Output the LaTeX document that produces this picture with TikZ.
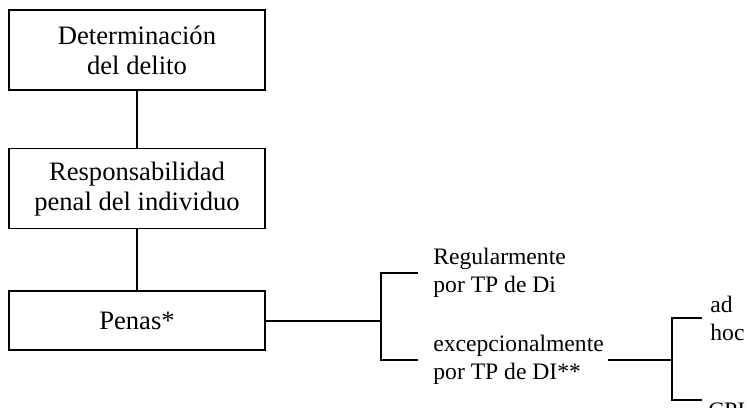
\documentclass[tikz,border=0pt]{standalone}
\usepackage{fontspec}
\setmainfont{Liberation Serif}
\usetikzlibrary{positioning}

\tikzset{
    box/.style={rectangle, draw, line width=0.8pt, minimum width=128pt, align=center, font=\fontsize{13.3}{15}\selectfont},
    branch/.style={align=left, inner xsep=2pt, font=\fontsize{11.8}{14}\selectfont},
    link/.style={line width=0.8pt}
}

\begin{document}
\begin{tikzpicture}[x=0.5pt, y=-0.5pt]
    \useasboundingbox (0,0) rectangle (747,407);
    \begin{scope}
        % Main column
        \node[box, minimum height=40pt] (delito) at (137,50) {Determinación\\del delito};
        \node[box, minimum height=40pt, below=28.5pt of delito] (resp) {Responsabilidad\\penal del individuo};
        \node[box, minimum height=29.5pt, below=30.5pt of resp] (penas) {Penas*};

        % Branches after the penalties
        \coordinate[right=57.5pt of penas] (fork1);
        \coordinate (regtick) at (418,273);
        \coordinate (exctick) at (418,360);
        \node[branch, anchor=west] (reg) at (429,273) {Regularmente\\por TP de Di};
        \node[branch, anchor=west] (exc) at (429,360) {excepcionalmente\\por TP de DI**};

        \coordinate (fork2) at (672,360);
        \coordinate (adtick) at (702,318);
        \coordinate (cpitick) at (702,400);
        \node[branch, anchor=west] (adhoc) at (706,318) {ad\\hoc};
        \node[branch, anchor=base west] (cpi) at (704,418) {CPI};

        % Connections
        \draw[link] (delito) -- (resp);
        \draw[link] (resp) -- (penas);
        \draw[link] (penas) -- (fork1);
        \draw[link] (regtick) -| (fork1) |- (exctick);
        \draw[link] (exc) -- (fork2);
        \draw[link] (adtick) -| (fork2) |- (cpitick);
    \end{scope}
\end{tikzpicture}
\end{document}
